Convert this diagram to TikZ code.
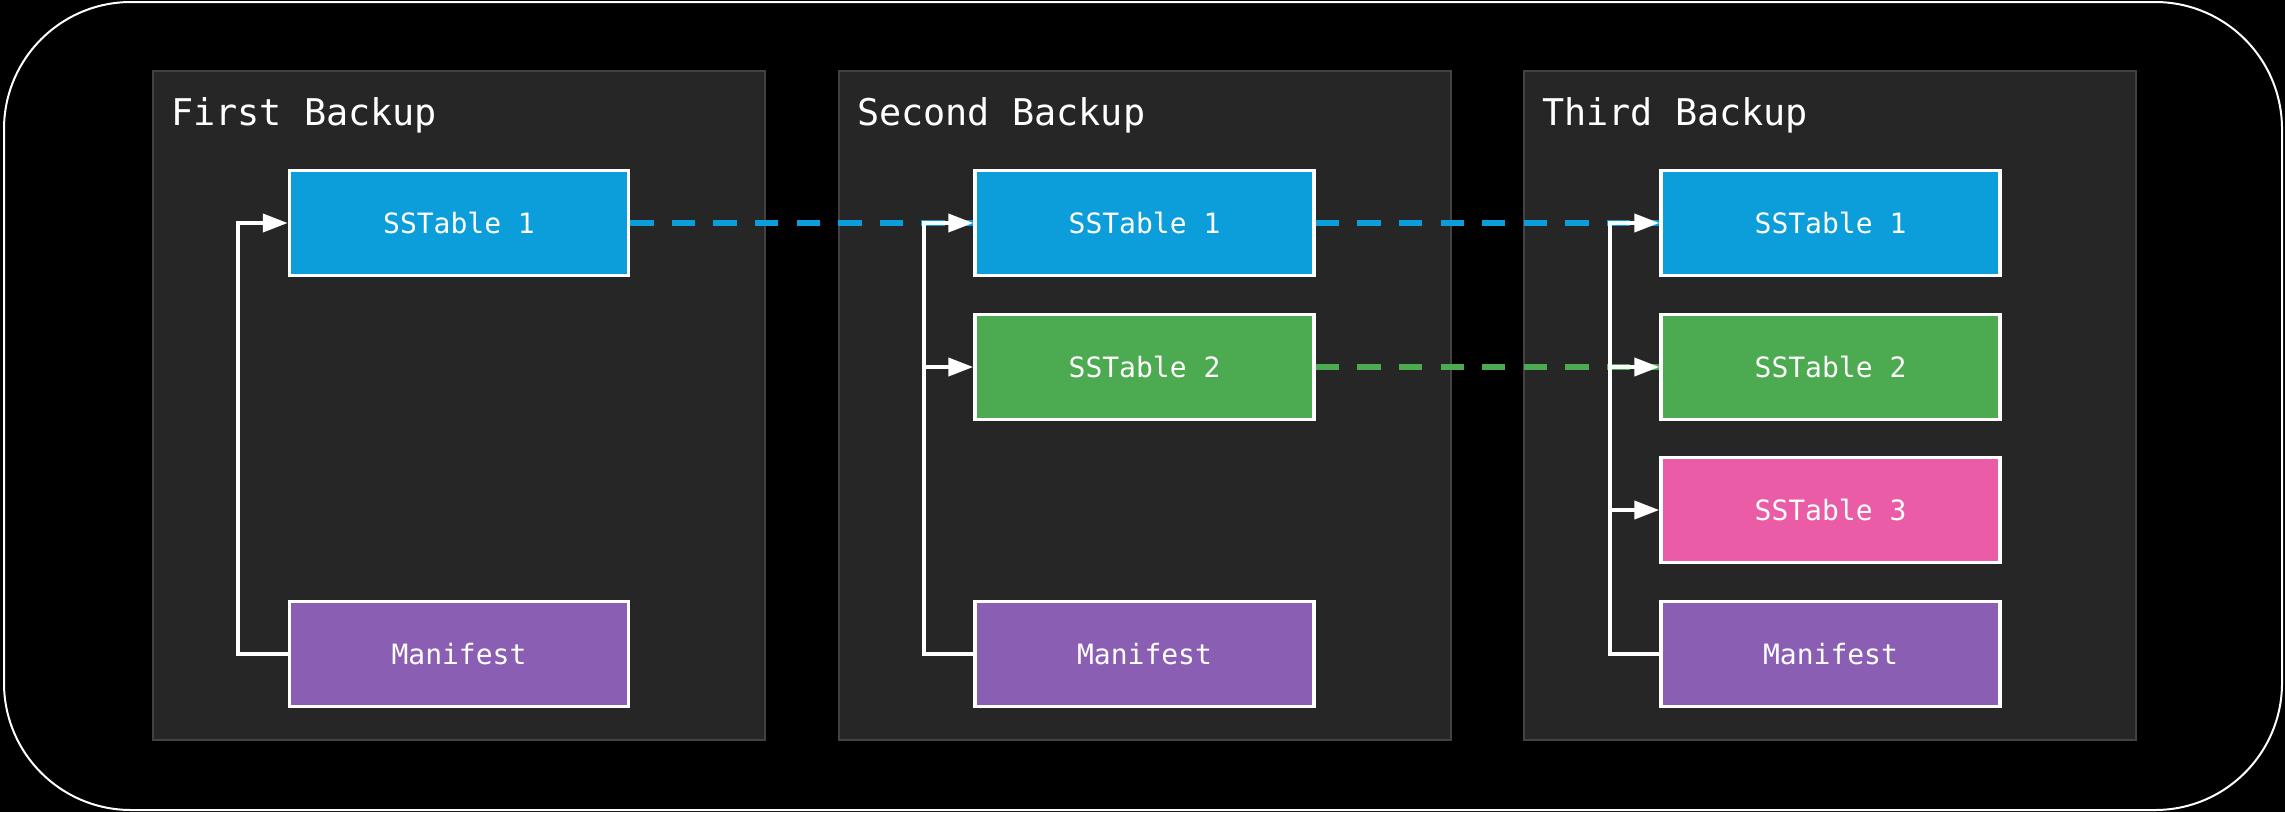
\documentclass[tikz,border=0pt]{standalone}
\usepackage{fontspec}
\newfontfamily\monof{DejaVu Sans Mono}
\usetikzlibrary{arrows.meta}
\definecolor{cblue}{HTML}{0C9DDB}
\definecolor{cgreen}{HTML}{4CAB50}
\definecolor{cpink}{HTML}{EA5DA6}
\definecolor{cpurple}{HTML}{8A5FB3}
\definecolor{cpanel}{HTML}{262626}
\definecolor{cpanelb}{HTML}{424242}
\tikzset{
  panel/.style={fill=cpanel,draw=cpanelb,line width=1.5pt},
  title/.style={anchor=base west,text=white,font=\monof\fontsize{36.8}{40}\selectfont,inner sep=0pt},
  tbox/.style={draw=white,line width=3.5pt,minimum width=339pt,minimum height=105pt,inner sep=0pt,text=white,font=\monof\fontsize{28}{32}\selectfont},
  wline/.style={draw=white,line width=4pt,line join=miter},
  arr/.style={wline,-{Triangle[length=25pt,width=18pt]}},
  dashl/.style={line width=6pt,dash pattern=on 23.3pt off 18.3pt}
}
\begin{document}
\begin{tikzpicture}[x=1pt,y=-1pt]
\useasboundingbox[fill=black] (0,0) rectangle (2285,812);
\draw[white,line width=2pt,rounded corners=127pt] (4,2) rectangle (2282,810);
% panels
\draw[panel] (153,71) rectangle (765,740);
\draw[panel] (839,71) rectangle (1451,740);
\draw[panel] (1524,71) rectangle (2136,740);
\node[title] (t1) at (171,125) {First Backup};
\node[title] (t2) at (857,125) {Second Backup};
\node[title] (t3) at (1542,125) {Third Backup};
% boxes
\node[tbox,fill=cblue] (s11) at (459,223) {SSTable 1};
\node[tbox,fill=cpurple] (m1) at (459,654) {Manifest};
\node[tbox,fill=cblue] (s21) at (1144.5,223) {SSTable 1};
\node[tbox,fill=cgreen] (s22) at (1144.5,367) {SSTable 2};
\node[tbox,fill=cpurple] (m2) at (1144.5,654) {Manifest};
\node[tbox,fill=cblue] (s31) at (1830.5,223) {SSTable 1};
\node[tbox,fill=cgreen] (s32) at (1830.5,367) {SSTable 2};
\node[tbox,fill=cpink] (s33) at (1830.5,510) {SSTable 3};
\node[tbox,fill=cpurple] (m3) at (1830.5,654) {Manifest};
% dashed links
\draw[dashl,cblue] (s11.east) -- (s21.west);
\draw[dashl,cblue] (s21.east) -- (s31.west);
\draw[dashl,cgreen] (s22.east) -- (s32.west);
% manifest links
\coordinate (j1) at (238,654);
\coordinate (j2) at (924,654);
\coordinate (j3) at (1610,654);
\draw[arr] (m1.west) -- (j1) |- (s11.west);
\draw[arr] (m2.west) -- (j2) |- (s21.west);
\draw[arr] (m2.west) -- (j2) |- (s22.west);
\draw[arr] (m3.west) -- (j3) |- (s31.west);
\draw[arr] (m3.west) -- (j3) |- (s32.west);
\draw[arr] (m3.west) -- (j3) |- (s33.west);
\end{tikzpicture}
\end{document}
